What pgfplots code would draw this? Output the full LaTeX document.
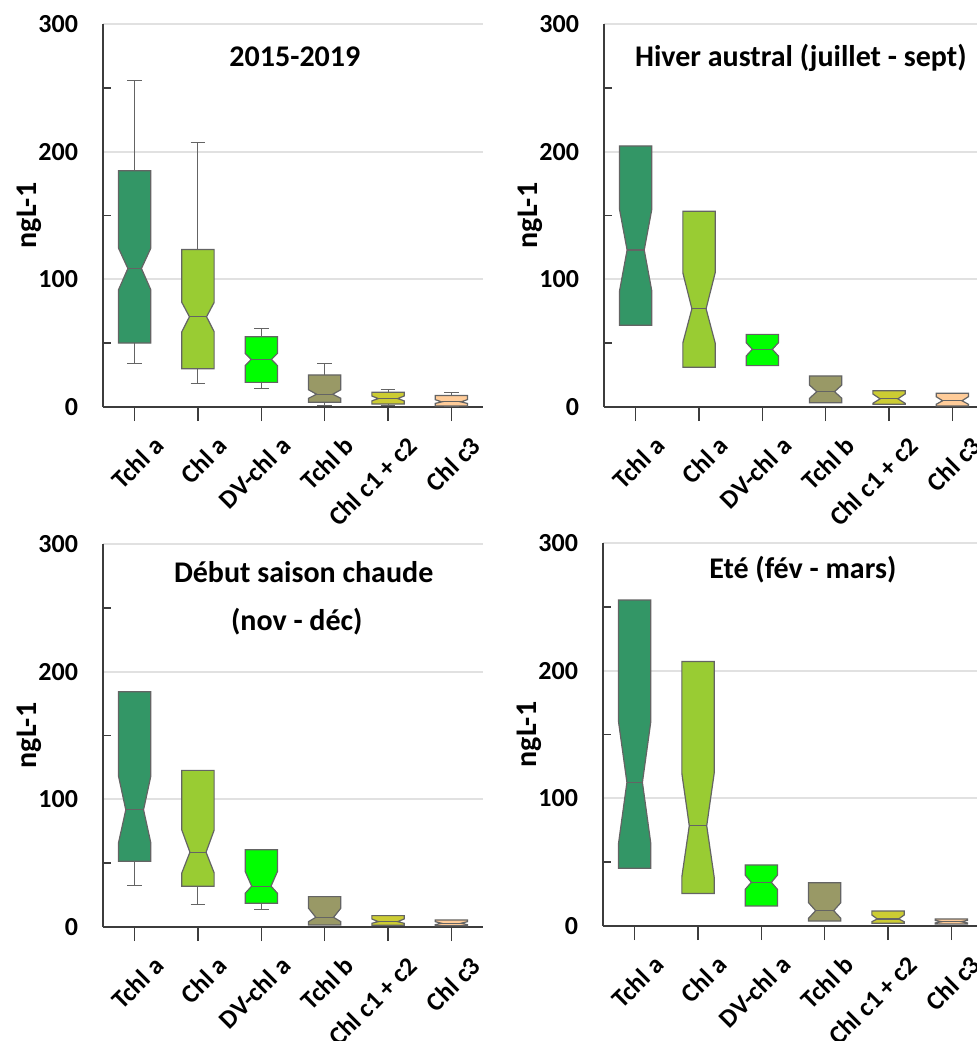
\documentclass[border=0pt]{standalone}
\usepackage{fontspec}
\setmainfont{Carlito}
\usepackage{pgfplots}
\pgfplotsset{compat=1.18}

\definecolor{cTa}{RGB}{51,150,102}
\definecolor{cCa}{RGB}{153,204,51}
\definecolor{cDV}{RGB}{0,255,0}
\definecolor{cTb}{RGB}{153,153,102}
\definecolor{cCd}{RGB}{204,204,51}
\definecolor{cCt}{RGB}{255,204,153}
\definecolor{boxgray}{RGB}{100,100,100}
\definecolor{axgray}{RGB}{60,60,60}
\definecolor{gridgray}{RGB}{225,225,225}

\newcommand{\bw}{0.255}
% \notchbox[notch ratio]{x}{q1}{notch low}{median}{notch high}{q3}{colour}
\newcommand{\notchbox}[8][0.5]{%
  \pgfmathsetmacro{\bxl}{#2-\bw}\pgfmathsetmacro{\bxr}{#2+\bw}%
  \pgfmathsetmacro{\bnl}{#2-\bw*#1}\pgfmathsetmacro{\bnr}{#2+\bw*#1}%
  \addplot[fill=#8, draw=boxgray, line width=0.6pt, mark=none]
    coordinates {(\bxl,#3) (\bxr,#3) (\bxr,#4) (\bnr,#5) (\bxr,#6) (\bxr,#7) (\bxl,#7) (\bxl,#6) (\bnl,#5) (\bxl,#4)} -- cycle;
  \addplot[draw=boxgray, line width=0.6pt, mark=none] coordinates {(\bnl,#5) (\bnr,#5)};
}
% \whisk{x}{from}{to}
\newcommand{\whisk}[3]{%
  \pgfmathsetmacro{\wxl}{#1-0.115}\pgfmathsetmacro{\wxr}{#1+0.115}%
  \addplot[draw=boxgray, line width=0.5pt, mark=none] coordinates {(#1,#2) (#1,#3)};
  \addplot[draw=boxgray, line width=0.5pt, mark=none] coordinates {(\wxl,#3) (\wxr,#3)};
}

\tikzset{ttl/.style={font=\fontsize{15}{18}\selectfont\bfseries, anchor=center}}
\pgfplotsset{
  panel/.style={
    scale only axis, width=190pt, height=191.5pt, anchor=south west,
    xmin=-0.5, xmax=5.5, ymin=0, ymax=300,
    axis lines=left, axis line style={-, draw=axgray, line width=1pt},
    xtick={0,1,2,3,4,5},
    xticklabels={Tchl a, Chl a, DV-chl a, Tchl b, Chl c1 + c2, Chl c3},
    tick align=outside, major tick length=7pt,
    xtick style={draw=axgray, line width=0.8pt},
    ytick={0,100,200,300}, ytick style={draw=none},
    ymajorgrids, major grid style={draw=gridgray, line width=1pt},
    extra y ticks={50,150,250}, extra y tick labels={},
    extra y tick style={ymajorgrids=false, tick align=inside, major tick length=4pt,
      ytick style={draw=axgray, line width=0.8pt}},
    /pgf/number format/assume math mode=true,
    yticklabel style={font=\fontsize{13}{15}\selectfont\bfseries, xshift=-2pt},
    xticklabel style={font=\fontsize{13}{15}\selectfont\bfseries, xshift=9pt, yshift=-2pt, rotate=45, anchor=north east},
    ylabel={ngL-1},
    ylabel style={font=\fontsize{15}{18}\selectfont\bfseries, at={(axis description cs:-0.195,0.5)}, anchor=center},
  },
}

\begin{document}
\begin{tikzpicture}
\useasboundingbox (0,0) rectangle (488.5pt,520.5pt);
\clip (0,0) rectangle (488.5pt,520.5pt);

% ---------- 2015-2019
\begin{axis}[panel, at={(51.5pt,317pt)}]
\whisk{0}{185.0}{255.4}\whisk{0}{50.1}{33.7}
\whisk{1}{123.4}{207.1}\whisk{1}{30.0}{18.8}
\whisk{2}{55.1}{61.1}\whisk{2}{19.3}{14.6}
\whisk{3}{25.1}{33.9}\whisk{3}{3.7}{0.8}
\whisk{4}{11.6}{13.5}\whisk{4}{2.3}{1.2}
\whisk{5}{9.0}{11.6}\whisk{5}{0.8}{0.3}
\notchbox[0.42]{0}{50.1}{91.8}{108.5}{124.4}{185.0}{cTa}
\notchbox[0.53]{1}{30.0}{59.0}{70.7}{81.9}{123.4}{cCa}
\notchbox[0.63]{2}{19.3}{32.4}{37.3}{42.0}{55.1}{cDV}
\notchbox[0.5]{3}{3.7}{6.8}{10.0}{13.5}{25.1}{cTb}
\notchbox[0.6]{4}{2.3}{4.8}{6.6}{8.6}{11.6}{cCd}
\notchbox[0.6]{5}{0.8}{2.8}{4.0}{5.8}{9.0}{cCt}
\node[ttl] at (rel axis cs:0.505,0.914) {2015-2019};
\end{axis}

% ---------- Hiver austral
\begin{axis}[panel, at={(302pt,317pt)}]
\notchbox[0.53]{0}{64.1}{90.8}{123.0}{154.9}{204.5}{cTa}
\notchbox[0.44]{1}{31.1}{50.2}{76.9}{105.2}{153.3}{cCa}
\notchbox[0.62]{2}{32.4}{39.9}{45.2}{50.4}{56.9}{cDV}
\notchbox[0.55]{3}{3.4}{6.8}{12.0}{17.2}{24.3}{cTb}
\notchbox[0.55]{4}{2.1}{2.9}{6.4}{10.2}{12.8}{cCd}
\notchbox[0.6]{5}{0.8}{2.1}{4.9}{8.1}{10.7}{cCt}
\node[ttl] at (rel axis cs:0.518,0.911) {Hiver austral (juillet - sept)};
\end{axis}

% ---------- Debut saison chaude
\begin{axis}[panel, at={(51.5pt,57pt)}]
\whisk{0}{51.5}{32.7}
\whisk{1}{31.9}{17.5}
\whisk{2}{18.6}{13.9}
\notchbox[0.55]{0}{51.5}{65.9}{91.8}{118.2}{184.2}{cTa}
\notchbox[0.5]{1}{31.9}{42.4}{58.6}{75.9}{122.7}{cCa}
\notchbox[0.6]{2}{18.6}{26.4}{32.0}{43.5}{60.5}{cDV}
\notchbox[0.55]{3}{1.6}{4.2}{7.6}{14.7}{23.8}{cTb}
\notchbox[0.6]{4}{1.3}{2.9}{4.2}{6.3}{8.9}{cCd}
\notchbox[0.6]{5}{1.0}{1.8}{2.9}{4.2}{5.5}{cCt}
\node[ttl] at (rel axis cs:0.528,0.927) {Début saison chaude};
\node[ttl] at (rel axis cs:0.51,0.798) {(nov - déc)};
\end{axis}

% ---------- Ete
\begin{axis}[panel, at={(301.5pt,57.5pt)}]
\notchbox[0.48]{0}{45.3}{64.6}{112.5}{160.1}{255.3}{cTa}
\notchbox[0.54]{1}{25.4}{38.5}{78.5}{119.5}{207.2}{cCa}
\notchbox[0.62]{2}{15.7}{28.7}{34.2}{39.9}{47.8}{cDV}
\notchbox[0.56]{3}{3.9}{6.0}{12.0}{18.3}{33.9}{cTb}
\notchbox[0.66]{4}{2.1}{3.4}{5.5}{8.6}{11.7}{cCd}
\notchbox[0.6]{5}{1.6}{2.4}{3.4}{4.4}{5.5}{cCt}
\node[ttl] at (rel axis cs:0.526,0.93) {Eté (fév - mars)};
\end{axis}
\end{tikzpicture}
\end{document}
